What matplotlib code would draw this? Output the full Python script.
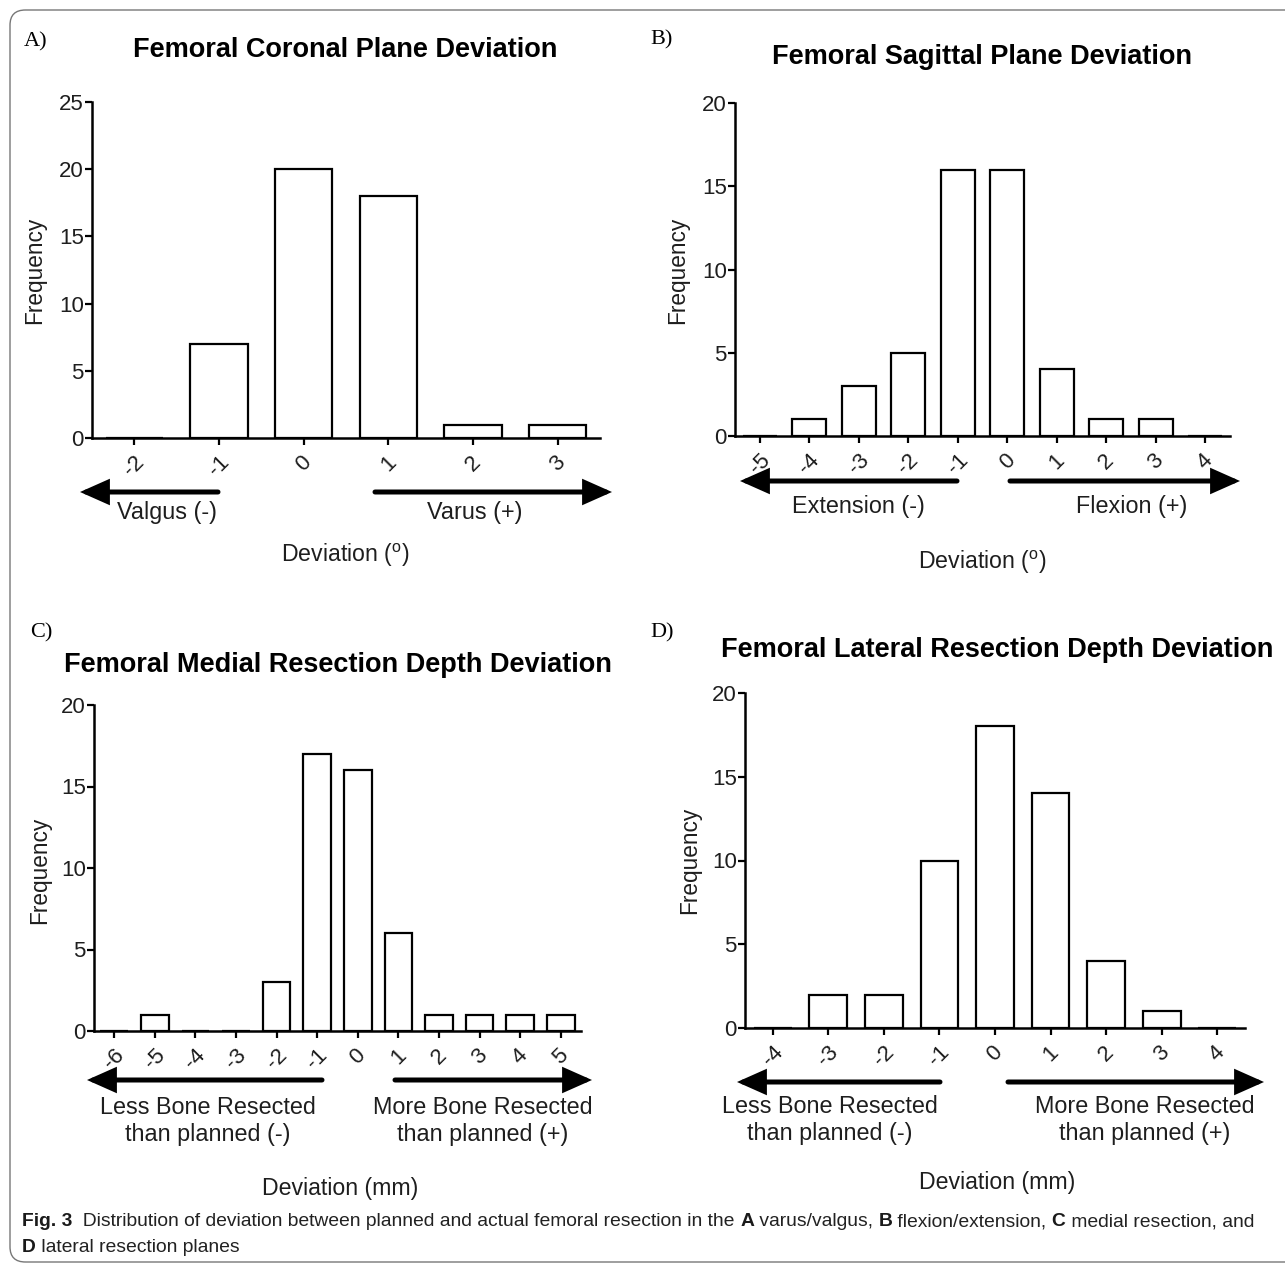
import matplotlib
matplotlib.use('Agg')
import matplotlib.pyplot as plt
from matplotlib import font_manager
from matplotlib.patches import FancyBboxPatch, FancyArrowPatch

# ---------------- data ----------------
a_cats = [-2, -1, 0, 1, 2, 3]
a_vals = [0, 7, 20, 18, 1, 1]
b_cats = [-5, -4, -3, -2, -1, 0, 1, 2, 3, 4]
b_vals = [0, 1, 3, 5, 16, 16, 4, 1, 1, 0]
c_cats = [-6, -5, -4, -3, -2, -1, 0, 1, 2, 3, 4, 5]
c_vals = [0, 1, 0, 0, 3, 17, 16, 6, 1, 1, 1, 1]
d_cats = [-4, -3, -2, -1, 0, 1, 2, 3, 4]
d_vals = [0, 2, 2, 10, 18, 14, 4, 1, 0]

titles = ["Femoral Coronal Plane Deviation",
          "Femoral Sagittal Plane Deviation",
          "Femoral Medial Resection Depth Deviation",
          "Femoral Lateral Resection Depth Deviation"]
letters = ["A)", "B)", "C)", "D)"]
neg_labels = ["Valgus (-)", "Extension (-)",
              "Less Bone Resected\nthan planned (-)",
              "Less Bone Resected\nthan planned (-)"]
pos_labels = ["Varus (+)", "Flexion (+)",
              "More Bone Resected\nthan planned (+)",
              "More Bone Resected\nthan planned (+)"]
xlabels = ["Deviation ($\\mathregular{^o}$)", "Deviation ($\\mathregular{^o}$)",
           "Deviation (mm)", "Deviation (mm)"]

# ---------------- fonts ----------------
names = {f.name for f in font_manager.fontManager.ttflist}
SANS = 'Liberation Sans' if 'Liberation Sans' in names else 'DejaVu Sans'
SERIF = 'Liberation Serif' if 'Liberation Serif' in names else 'DejaVu Serif'
NARROW = 'Liberation Sans Narrow' if 'Liberation Sans Narrow' in names else SANS
plt.rcParams['font.family'] = [SANS, 'DejaVu Sans']
plt.rcParams['mathtext.fontset'] = 'custom'
plt.rcParams['mathtext.rm'] = SANS

W, H = 1285, 1265
fig = plt.figure(figsize=(W / 100, H / 100), dpi=100)


def fx(x):
    return x / W


def fy(y):
    return 1 - y / H


TXT = '#1e1e1e'

# layout in pixels
layout = [
    dict(l=92, r=600, t=102, b=438, ymax=25, xlim=(-2.5, 3.5),
         title=(345, 50), letter=(24, 42), ylab=(35, 270),
         larr=(218, 80, 492), rarr=(375, 612, 492),
         nlab=(167, 513), plab=(475, 513), xlab=(345, 555)),
    dict(l=735, r=1230, t=103, b=436, ymax=20, xlim=(-5.5, 4.5),
         title=(982, 57), letter=(650, 40), ylab=(678, 270),
         larr=(957, 740, 481), rarr=(1010, 1240, 481),
         nlab=(858, 507), plab=(1132, 507), xlab=(982, 562)),
    dict(l=94, r=581, t=705, b=1031, ymax=20, xlim=(-6.5, 5.5),
         title=(338, 665), letter=(30, 633), ylab=(40, 870),
         larr=(322, 87, 1080), rarr=(395, 592, 1080),
         nlab=(208, 1121), plab=(483, 1121), xlab=(340, 1188)),
    dict(l=745, r=1245, t=693, b=1028, ymax=20, xlim=(-4.5, 4.5),
         title=(997, 650), letter=(650, 633), ylab=(690, 860),
         larr=(940, 737, 1082), rarr=(1008, 1264, 1082),
         nlab=(830, 1120), plab=(1145, 1120), xlab=(997, 1182)),
]

datasets = [(a_cats, a_vals), (b_cats, b_vals), (c_cats, c_vals), (d_cats, d_vals)]

for i, (L, (cats, vals)) in enumerate(zip(layout, datasets)):
    ax = fig.add_axes([fx(L['l']), fy(L['b']), (L['r'] - L['l']) / W,
                       (L['b'] - L['t']) / H])
    ax.bar(cats, vals, width=0.68, color='white', edgecolor='black',
           linewidth=1.6, zorder=2)
    ax.set_xlim(*L['xlim'])
    ax.set_ylim(0, L['ymax'])
    ax.set_yticks(list(range(0, L['ymax'] + 1, 5)))
    ax.set_xticks(cats)
    ax.set_xticklabels([str(c) for c in cats], rotation=45, ha='center')
    for s in ['top', 'right']:
        ax.spines[s].set_visible(False)
    for s in ['left', 'bottom']:
        ax.spines[s].set_linewidth(1.8)
        ax.spines[s].set_zorder(3)
    ax.tick_params(axis='both', direction='out', length=5, width=1.6,
                   labelsize=16, labelcolor=TXT)
    ax.tick_params(axis='y', pad=1)
    ax.tick_params(axis='x', pad=5)
    ax.patch.set_alpha(0)

    fig.text(fx(L['title'][0]), fy(L['title'][1]), titles[i], ha='center',
             va='center', fontsize=19.5, fontweight='bold', color='black')
    fig.text(fx(L['letter'][0]), fy(L['letter'][1]), letters[i], ha='left',
             va='center', fontsize=16, family=SERIF, color='black')
    fig.text(fx(L['ylab'][0]), fy(L['ylab'][1]), 'Frequency', rotation=90,
             ha='center', va='center', fontsize=16.3, color=TXT)
    for (x0, x1, yy) in (L['larr'], L['rarr']):
        arr = FancyArrowPatch((fx(x0), fy(yy)), (fx(x1), fy(yy)),
                              transform=fig.transFigure,
                              arrowstyle='-|>,head_length=0.45,head_width=0.2',
                              mutation_scale=34, lw=3.6, color='black',
                              shrinkA=0, shrinkB=0, joinstyle='miter',
                              capstyle='round')
        fig.add_artist(arr)
    fig.text(fx(L['nlab'][0]), fy(L['nlab'][1]), neg_labels[i], ha='center',
             va='center', fontsize=16.8, color=TXT, linespacing=1.2)
    fig.text(fx(L['plab'][0]), fy(L['plab'][1]), pos_labels[i], ha='center',
             va='center', fontsize=16.8, color=TXT, linespacing=1.2)
    fig.text(fx(L['xlab'][0]), fy(L['xlab'][1]), xlabels[i], ha='center',
             va='center', fontsize=16.7, color=TXT)

# frame
frame = FancyBboxPatch((fx(10), fy(1262)), fx(1400) - fx(10), fy(10) - fy(1262),
                       boxstyle='round,pad=0,rounding_size=0.012',
                       transform=fig.transFigure, fill=False,
                       edgecolor='#777777', lw=1.0, clip_on=False)
fig.add_artist(frame)

# caption with mixed bold / regular runs
renderer = fig.canvas.get_renderer()
cap_size = 13.85
line1 = [("Fig. 3", 'bold'),
         ("  Distribution of deviation between planned and actual femoral resection in the ", 'normal'),
         ("A", 'bold'), (" varus/valgus, ", 'normal'), ("B", 'bold'),
         (" flexion/extension, ", 'normal'), ("C", 'bold'),
         (" medial resection, and", 'normal')]
line2 = [("D", 'bold'), (" lateral resection planes", 'normal')]


def rich(x_px, y_px, parts):
    x = x_px
    for txt, wt in parts:
        t = fig.text(fx(x), fy(y_px), txt, ha='left', va='center',
                     fontsize=cap_size, fontweight=wt, family=NARROW,
                     color='#222222' if wt == 'normal' else '#1a1a1a')
        bb = t.get_window_extent(renderer)
        x += bb.width


rich(22, 1222, line1)
rich(22, 1248, line2)

fig.savefig('out.png', dpi=100, facecolor='white')
